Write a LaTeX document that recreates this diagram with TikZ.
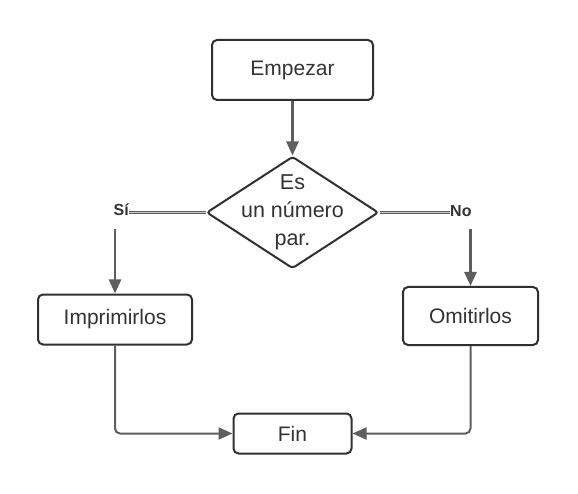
\documentclass[tikz,border=0pt]{standalone}
\usepackage{fontspec}
\setmainfont{Liberation Sans}
\usetikzlibrary{arrows.meta,shapes.geometric}
\definecolor{boxline}{HTML}{303030}
\definecolor{conn}{HTML}{5E5E5E}
\definecolor{txt}{HTML}{333333}
\definecolor{dbl}{HTML}{C8C8C8}
\begin{document}
\begin{tikzpicture}[x=1pt,y=-1pt,
  box/.style={draw=boxline, line width=2pt, rounded corners=5pt, fill=white,
    inner sep=0pt, text=txt, font=\fontsize{21}{24}\selectfont},
  decision/.style={diamond, draw=boxline, line width=2pt, fill=white, inner sep=0pt,
    rounded corners=3pt, minimum width=172pt, minimum height=112pt},
  dectext/.style={align=center, text=txt, font=\fontsize{21.5}{28}\selectfont, inner sep=0pt},
  lbl/.style={inner sep=0pt, text=txt, font=\bfseries\fontsize{16}{18}\selectfont},
  arrow/.style={draw=conn, line width=2.6pt, -{Triangle[length=14pt,width=12pt]}},
  flow/.style={draw=conn, line width=2pt, rounded corners=5pt, -{Triangle[length=14pt,width=12pt]}},
  dline/.style={draw=conn, line width=1pt, double=dbl, double distance=1.6pt}
]
\useasboundingbox (0,0) rectangle (578,494);
\fill[white] (0,0) rectangle (578,494);

\node[box, minimum width=161pt, minimum height=60pt] (start) at (292.5,70) {Empezar};
\node[decision] (dia) at (292.5,212.5) {};
\node[dectext] (diat) at (292.5,212) {Es\\un número\\par.};
\node[box, minimum width=154pt, minimum height=50pt] (imp) at (115,319.5) {Imprimirlos};
\node[box, minimum width=135pt, minimum height=58pt] (omi) at (470.5,316) {Omitirlos};
\node[box, minimum width=118pt, minimum height=40pt] (fin) at (292.5,433.5) {Fin};

\node[lbl, anchor=east] (si) at (129,210) {Sí};
\node[lbl, anchor=west] (no) at (450,211) {No};

\draw[arrow] (start.south) -- (dia.north);
\draw[dline] (dia.west) -- (si.east |- dia.west);
\draw[dline] (dia.east) -- (no.west |- dia.east);
\draw[arrow] ([yshift=-13pt]imp.north |- si.south) -- (imp.north);
\draw[arrow] ([yshift=-12pt]omi.north |- no.south) -- (omi.north);
\draw[flow] (imp.south) |- (fin.west);
\draw[flow] (omi.south) |- (fin.east);
\end{tikzpicture}
\end{document}
